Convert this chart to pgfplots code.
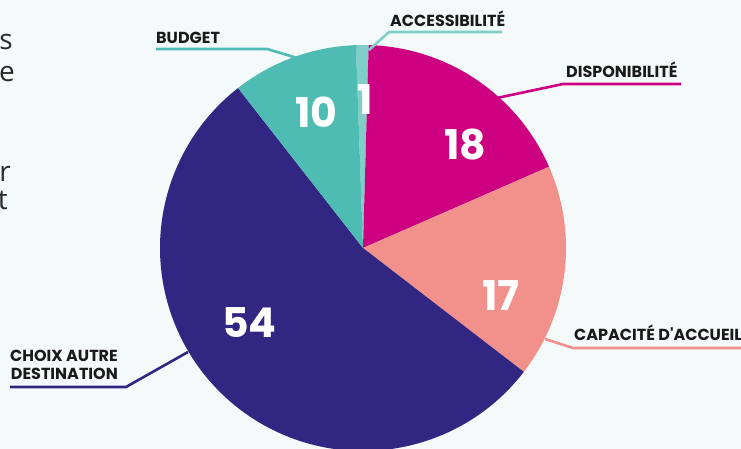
\documentclass[border=0pt]{standalone}
\usepackage{pgfplots}
\usepackage{pgfplotstable}
\pgfplotsset{compat=1.18}
\usepackage{fontspec}
\setmainfont{Poppins}
\newfontfamily\bodyfont{Open Sans}
\definecolor{bg}{HTML}{F4F9F9}
\definecolor{cAcc}{HTML}{7FCFC8}
\definecolor{cDisp}{HTML}{CC0080}
\definecolor{cCap}{HTML}{F2908C}
\definecolor{cChoix}{HTML}{312783}
\definecolor{cBud}{HTML}{4FBCB4}
\definecolor{lab}{HTML}{1A1A1A}
\definecolor{para}{HTML}{2A2A2A}
\pgfplotstableread{
value col
1 cAcc
18 cDisp
17 cCap
54 cChoix
10 cBud
}\piedata
\newcommand\startangle{92}
\begin{document}
\begin{tikzpicture}
\fill[bg] (0,0) rectangle (741pt,449pt);
\begin{axis}[at={(0,0)}, anchor=south west, x=1pt, y=1pt,
  xmin=0, xmax=741, ymin=0, ymax=449, hide axis, clip=false]
\pgfplotsinvokeforeach{0,...,4}{%
  \pgfplotstablegetelem{#1}{value}\of\piedata \let\v\pgfplotsretval
  \pgfplotstablegetelem{#1}{col}\of\piedata \let\c\pgfplotsretval
  \pgfmathsetmacro\aend{\startangle-3.6*\v}%
  \edef\temp{\noexpand\fill[\c] (axis cs:363,201) -- ++(\startangle:203pt) arc[start angle=\startangle, end angle=\aend, radius=203pt] -- cycle;}%
  \temp
  \global\let\startangle\aend
}
% values
\tikzset{num/.style={text=white, font=\fontsize{41}{41}\selectfont\bfseries, inner sep=0pt, anchor=center}}
\node[num] at (axis cs:365,349) {1};
\node[num] at (axis cs:465,304) {18};
\node[num] at (axis cs:501,153) {17};
\node[num] at (axis cs:249.5,126.5) {54};
\node[num] at (axis cs:316.5,336.5) {10};
% labels
\tikzset{lbl/.style={text=lab, font=\fontsize{16}{18}\selectfont\bfseries, inner sep=0pt}}
\draw[cBud, line width=2.6pt] (axis cs:156,400) -- (axis cs:267,400) -- (axis cs:297,391);
\node[lbl, anchor=base west] at (axis cs:156,405) {BUDGET};
\draw[cAcc, line width=2.6pt] (axis cs:502,417) -- (axis cs:389,417) -- (axis cs:369,399);
\node[lbl, anchor=base west] at (axis cs:390,422) {ACCESSIBILITÉ};
\draw[cDisp, line width=2.6pt] (axis cs:681,365) -- (axis cs:563,365) -- (axis cs:497,351);
\node[lbl, anchor=base west] at (axis cs:566,371) {DISPONIBILITÉ};
\draw[cCap, line width=2.6pt] (axis cs:745,101) -- (axis cs:573,101) -- (axis cs:545,110);
\node[lbl, anchor=base west] at (axis cs:574,108) {CAPACITÉ D\textquotesingle ACCUEIL};
\draw[cChoix, line width=2.6pt] (axis cs:10,62) -- (axis cs:126,62) -- (axis cs:188,97);
\node[lbl, anchor=base east] at (axis cs:118,87) {CHOIX AUTRE};
\node[lbl, anchor=base east] at (axis cs:118,69) {DESTINATION};
% cropped paragraph text
\tikzset{par/.style={text=para, font=\bodyfont\fontsize{28}{30}\selectfont, inner sep=0pt, anchor=base east}}
\node[par] at (axis cs:13,399) {s};
\node[par] at (axis cs:15,367) {re};
\node[par] at (axis cs:11,267) {r};
\node[par] at (axis cs:8,239) {t};
\end{axis}
\pgfresetboundingbox
\path[use as bounding box] (0,0) rectangle (741pt,449pt);
\end{tikzpicture}
\end{document}
